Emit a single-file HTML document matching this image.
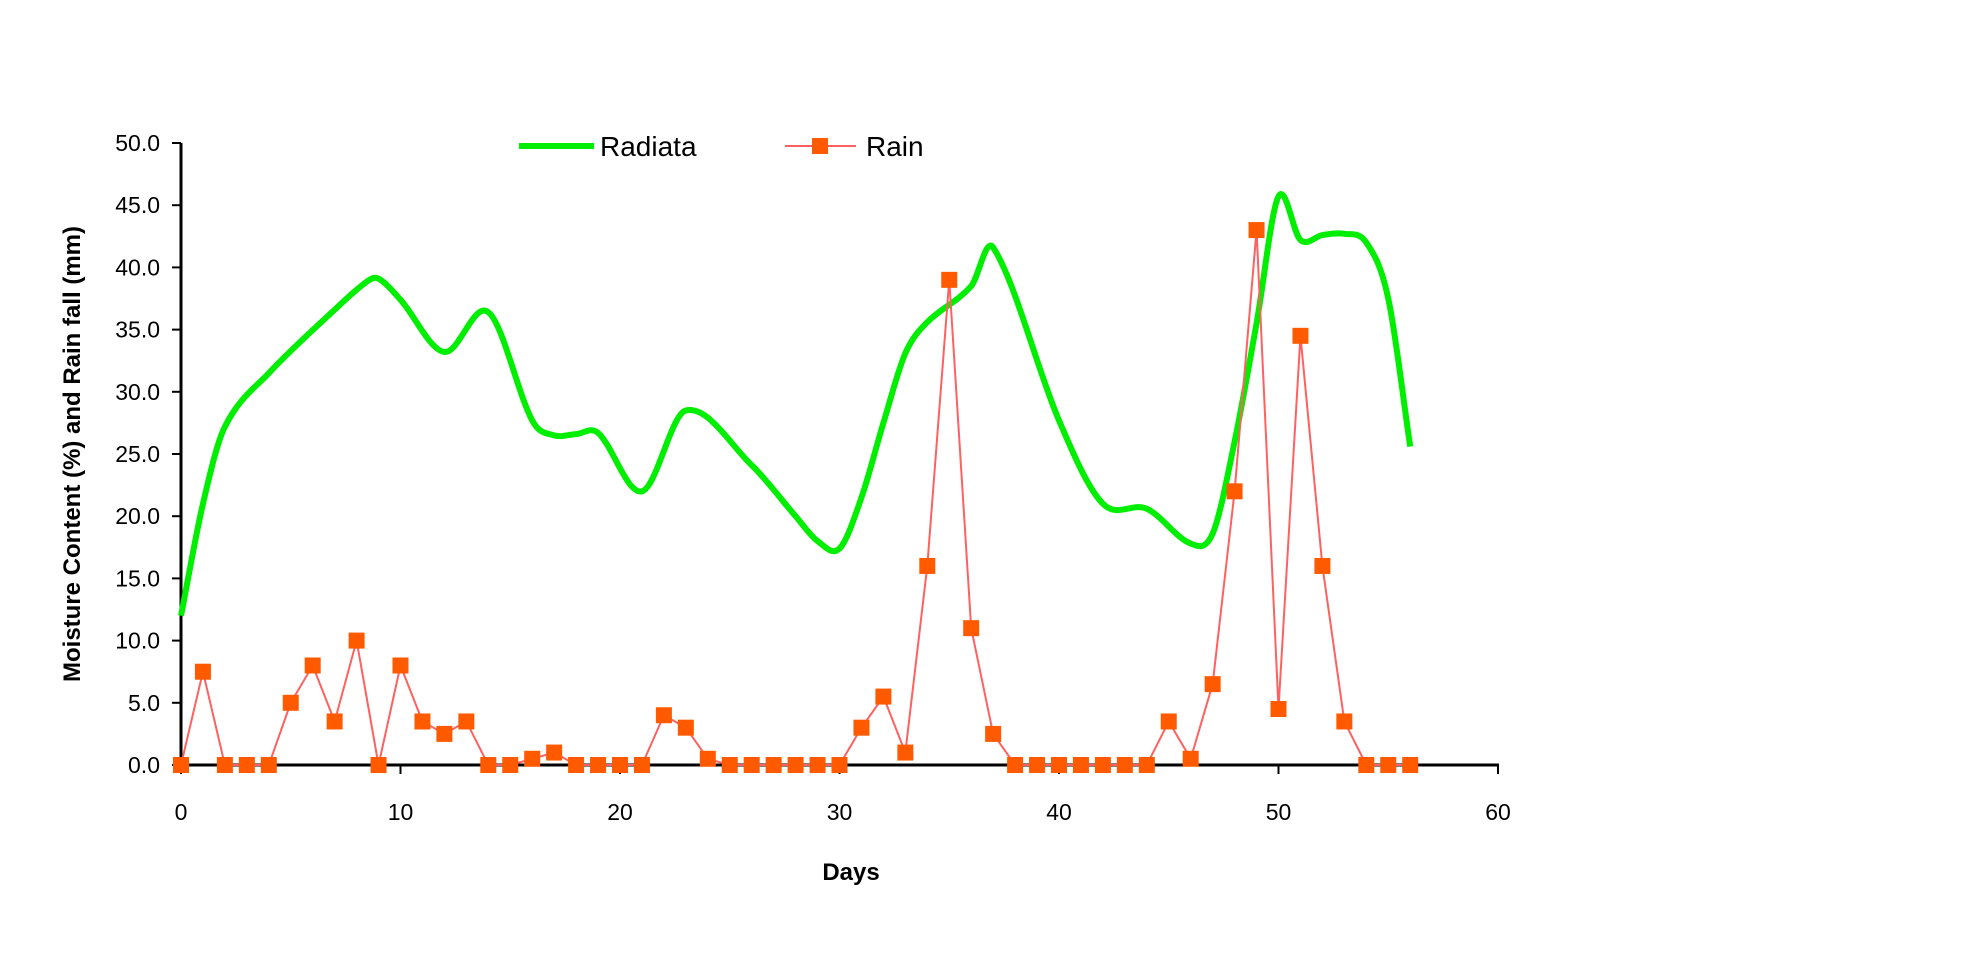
<!DOCTYPE html>
<html><head><meta charset="utf-8"><style>
html,body{margin:0;padding:0;background:#fff;}
svg{display:block;}
text{font-family:"Liberation Sans",sans-serif;}
</style></head><body>
<svg id="c" width="1961" height="954" xmlns="http://www.w3.org/2000/svg">
<rect width="1961" height="954" fill="#fff"/>
<g id="axes" stroke="#000" stroke-width="3" fill="none">
<line x1="181" y1="143" x2="181" y2="766"/>
<line x1="180" y1="765" x2="1499" y2="765"/>
</g>
<g id="ticks" stroke="#000" stroke-width="2"></g>
<g id="labels" font-size="23" fill="#000"></g>
<text x="851" y="880" font-size="24" font-weight="bold" text-anchor="middle">Days</text>
<text transform="translate(80,454) rotate(-90)" font-size="24" font-weight="bold" text-anchor="middle">Moisture Content (%) and Rain fall (mm)</text>
<line x1="519" y1="146" x2="594" y2="146" stroke="#00ee00" stroke-width="6"/>
<text x="600" y="156" font-size="28">Radiata</text>
<line x1="785" y1="146" x2="856" y2="146" stroke="#ff6060" stroke-width="2"/>
<rect x="812" y="138" width="16" height="16" fill="#ff5a00"/>
<text x="866" y="156" font-size="28">Rain</text>
<path id="green" fill="none" stroke="#00ee00" stroke-width="6" stroke-linejoin="round"/>
<polyline id="rain" fill="none" stroke="#ff6060" stroke-width="2"/>
<g id="mk" fill="#ff5a00"></g>
</svg>
<script>
var X=function(d){return 181+d*21.95},Y=function(v){return 765-v*12.44};
var ns="http://www.w3.org/2000/svg";
function el(t,a,p,txt){var e=document.createElementNS(ns,t);for(var k in a)e.setAttribute(k,a[k]);if(txt!=null)e.textContent=txt;p.appendChild(e);return e;}
var tk=document.getElementById('ticks'),lb=document.getElementById('labels');
for(var v=0;v<=50;v+=5){el('line',{x1:172,y1:Y(v),x2:181,y2:Y(v)},tk);el('text',{x:160,y:Y(v)+8,'text-anchor':'end'},lb,v.toFixed(1));}
for(var d=0;d<=60;d+=10){el('line',{x1:X(d),y1:765,x2:X(d),y2:774},tk);el('text',{x:X(d),y:820,'text-anchor':'middle'},lb,String(d));}
var R=[[0,12],[1,21],[2,27.2],[4,31.5],[7,36.6],[8.5,38.9],[9,39.1],[10,37.4],[12,33.2],[14,36.4],[16,27.7],[17,26.5],[18,26.6],[19,26.7],[21,22],[23,28.5],[26,24.1],[28,20],[29,18],[30,17.4],[31,21.5],[32,27.5],[33,33.1],[34,35.6],[36,38.5],[37,41.6],[40,27.7],[42,21],[44,20.6],[46,17.8],[47,18.6],[48,26],[49,35.5],[50,45.7],[51,42.2],[52,42.6],[53,42.7],[54,42],[55,37.5],[56,25.6]];
var P=R.map(function(p){return [X(p[0]),Y(p[1])]});
var n=P.length,M=[];
for(var i=0;i<n;i++){var a=P[Math.max(i-1,0)],b=P[Math.min(i+1,n-1)];M.push((b[1]-a[1])/(b[0]-a[0]));}
var s="M"+P[0][0]+","+P[0][1];
for(var i=0;i<n-1;i++){var p1=P[i],p2=P[i+1],dx=(p2[0]-p1[0])/3;
s+=" C"+(p1[0]+dx)+","+(p1[1]+M[i]*dx)+" "+(p2[0]-dx)+","+(p2[1]-M[i+1]*dx)+" "+p2[0]+","+p2[1];}
document.getElementById('green').setAttribute('d',s);
var W=[0,7.5,0,0,0,5,8,3.5,10,0,8,3.5,2.5,3.5,0,0,0.5,1,0,0,0,0,4,3,0.5,0,0,0,0,0,0,3,5.5,1,16,39,11,2.5,0,0,0,0,0,0,0,3.5,0.5,6.5,22,43,4.5,34.5,16,3.5,0,0,0];
document.getElementById('rain').setAttribute('points',W.map(function(v,i){return X(i)+","+Y(v)}).join(" "));
var mk=document.getElementById('mk');
W.forEach(function(v,i){el('rect',{x:X(i)-8,y:Y(v)-8,width:16,height:16},mk);});
</script>
</body></html>
